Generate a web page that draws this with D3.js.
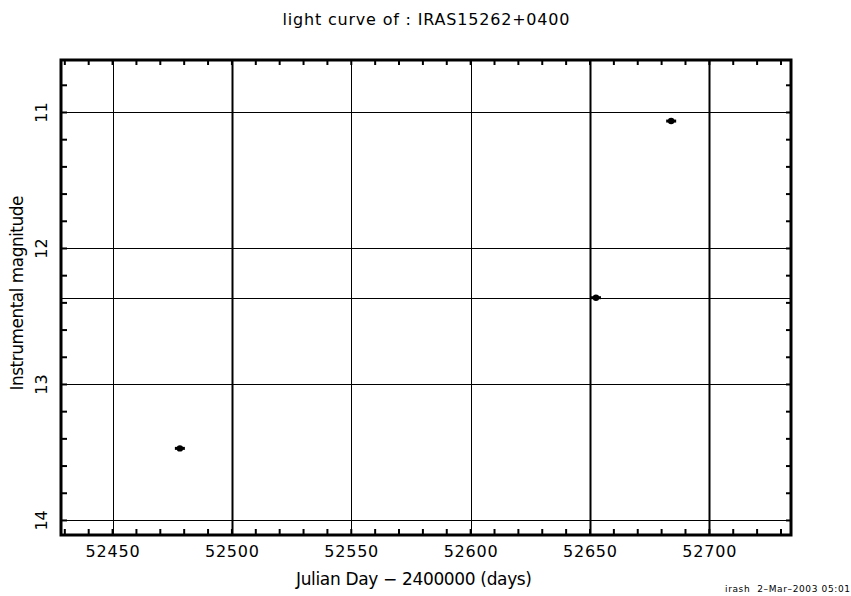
<!DOCTYPE html>
<html>
  <head>
    <script src="https://d3js.org/d3.v7.min.js"></script>
    <title>light curve</title>
    <style>
      body { margin: 0; background: #fff; }
      text { font-family: "DejaVu Sans", sans-serif; fill: #000; white-space: pre; }
    </style>
  </head>
  <body>
  <svg width="851" height="596"></svg>
  <script>
      // observations
      var days = [52478.2, 52652.5, 52684.0];
      var mags = [13.47, 12.362, 11.063];

      // axis ticks and grid
      var xTicks = [52450, 52500, 52550, 52600, 52650, 52700];
      var xThick = [52500, 52650, 52700];
      var yTicks = [11, 12, 13, 14];
      var yExtra = [12.362];

      var svg = d3.select('svg');
      var w = 851, h = 596;
      var margin = { left: 61, right: 60, top: 60, bottom: 61 };

      var xScale = d3.scaleLinear()
        .domain([52428.4, 52734.2])
        .range([margin.left, w - margin.right]);

      var yScale = d3.scaleLinear()
        .domain([10.614, 14.107])
        .range([margin.top, h - margin.bottom]);

      var x0 = margin.left, x1 = w - margin.right;
      var y0 = margin.top, y1 = h - margin.bottom;

      // grid lines
      var grid = svg.append('g');
      grid.selectAll('line.v')
        .data(xTicks)
        .enter().append('line')
        .attr('x1', d => Math.round(xScale(d)) + 0.5)
        .attr('x2', d => Math.round(xScale(d)) + 0.5)
        .attr('y1', y0).attr('y2', y1)
        .attr('stroke', '#000')
        .attr('stroke-width', d => xThick.includes(d) ? 2 : 1);

      grid.selectAll('line.h')
        .data(yTicks.concat(yExtra))
        .enter().append('line')
        .attr('x1', x0).attr('x2', x1)
        .attr('y1', d => Math.round(yScale(d)) + 0.5)
        .attr('y2', d => Math.round(yScale(d)) + 0.5)
        .attr('stroke', '#000')
        .attr('stroke-width', 1);

      // minor ticks, pointing inward on every side
      var xMinor = d3.range(52430, 52735, 10);
      var yMinor = d3.range(10.8, 14.05, 0.2);
      var ticks = svg.append('g').attr('stroke', '#000').attr('stroke-width', 2);
      ticks.selectAll('.tb').data(xMinor).enter().append('line')
        .attr('x1', d => xScale(d)).attr('x2', d => xScale(d))
        .attr('y1', y1).attr('y2', y1 - 6);
      ticks.selectAll('.tt').data(xMinor).enter().append('line')
        .attr('x1', d => xScale(d)).attr('x2', d => xScale(d))
        .attr('y1', y0).attr('y2', y0 + 5);
      ticks.selectAll('.tl').data(yMinor).enter().append('line')
        .attr('x1', x0).attr('x2', x0 + 6)
        .attr('y1', d => yScale(d)).attr('y2', d => yScale(d));
      ticks.selectAll('.tr').data(yMinor).enter().append('line')
        .attr('x1', x1).attr('x2', x1 - 5)
        .attr('y1', d => yScale(d)).attr('y2', d => yScale(d));

      // frame
      svg.append('rect')
        .attr('x', x0).attr('y', y0)
        .attr('width', x1 - x0).attr('height', y1 - y0)
        .attr('fill', 'none')
        .attr('stroke', '#000')
        .attr('stroke-width', 3);

      // tick labels
      svg.append('g').selectAll('text')
        .data(xTicks)
        .enter().append('text')
        .attr('x', d => xScale(d))
        .attr('y', 557)
        .style('text-anchor', 'middle')
        .style('font-size', '16px')
        .attr('textLength', 54)
        .text(d => d);

      svg.append('g').selectAll('text')
        .data(yTicks)
        .enter().append('text')
        .attr('transform', d => `translate(47, ${yScale(d)}) rotate(-90)`)
        .style('text-anchor', 'middle')
        .style('font-size', '16px')
        .text(d => d);

      // marks
      var pts = days.map((d, i) => ({ day: d, mag: mags[i] }));
      var marks = svg.append('g');
      marks.selectAll('line')
        .data(pts).enter().append('line')
        .attr('x1', d => xScale(d.day) - 5)
        .attr('x2', d => xScale(d.day) + 5)
        .attr('y1', d => yScale(d.mag))
        .attr('y2', d => yScale(d.mag))
        .attr('stroke', '#000')
        .attr('stroke-width', 3);
      marks.selectAll('circle')
        .data(pts).enter().append('circle')
        .attr('cx', d => xScale(d.day))
        .attr('cy', d => yScale(d.mag))
        .attr('r', 3.2)
        .attr('fill', '#000');

      // labels
      svg.append('text')
        .attr('x', 426).attr('y', 25)
        .style('text-anchor', 'middle')
        .style('font-size', '16px')
        .attr('textLength', 287)
        .text('light curve of : IRAS15262+0400');

      svg.append('text')
        .attr('x', 414).attr('y', 585)
        .style('text-anchor', 'middle')
        .style('font-size', '17px')
        .attr('textLength', 236)
        .text('Julian Day \u2212 2400000 (days)');

      svg.append('text')
        .attr('transform', 'translate(23, 293) rotate(-90)')
        .style('text-anchor', 'middle')
        .style('font-size', '17px')
        .attr('textLength', 195)
        .text('Instrumental magnitude');

      svg.append('text')
        .attr('x', 850).attr('y', 592)
        .style('text-anchor', 'end')
        .style('font-size', '9px')
        .attr('textLength', 125)
        .text('irash  2\u2013Mar\u20132003 05:01');
  </script>
  </body>
</html>
